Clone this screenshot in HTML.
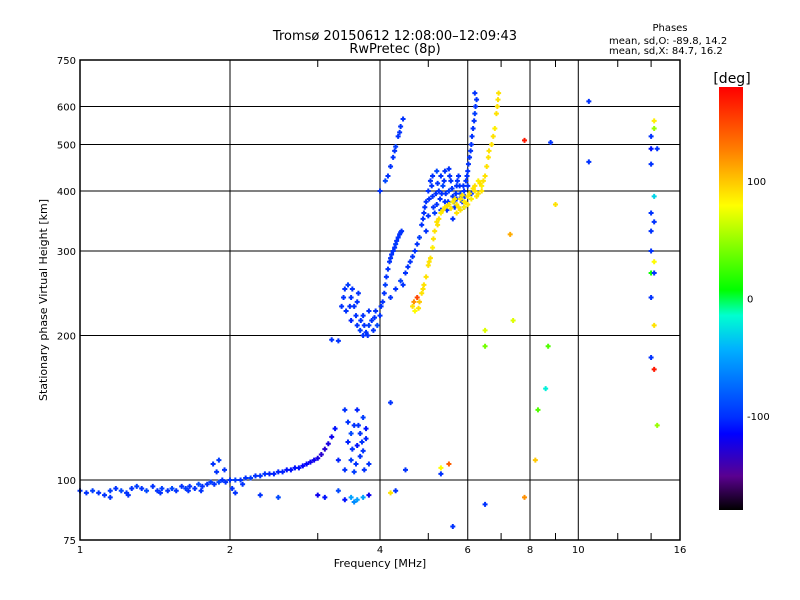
<!DOCTYPE html>
<html><head><meta charset="utf-8"><style>
body{margin:0;background:#fff;}
svg{display:block;font-family:"DejaVu Sans","Liberation Sans",sans-serif;}
</style></head><body>
<svg id="c" width="800" height="600" viewBox="0 0 800 600">
<text x="395" y="40" text-anchor="middle" font-size="13">Tromsø 20150612 12:08:00–12:09:43</text>
<text x="395" y="53" text-anchor="middle" font-size="13">RwPretec (8p)</text>
<text x="670" y="31" text-anchor="middle" font-size="10">Phases</text>
<text x="609" y="44" font-size="10">mean, sd,O: -89.8, 14.2</text>
<text x="609" y="54" font-size="10">mean, sd,X:  84.7, 16.2</text>
<g id="grid"></g>
<g id="marks"></g>
<rect x="80" y="60" width="600" height="480" fill="none" stroke="#000" stroke-width="1.5"/>
<g id="ticks"></g>
<text x="380" y="567" text-anchor="middle" font-size="11">Frequency [MHz]</text>
<text transform="translate(47,300) rotate(-90)" text-anchor="middle" font-size="11">Stationary phase Virtual Height [km]</text>
<defs><linearGradient id="cb" x1="0" y1="1" x2="0" y2="0">
<stop offset="0" stop-color="#000"/><stop offset="0.08" stop-color="#5a0090"/><stop offset="0.18" stop-color="#0000ff"/><stop offset="0.22" stop-color="#0030ff"/><stop offset="0.38" stop-color="#00b0ff"/><stop offset="0.46" stop-color="#00ffd0"/><stop offset="0.52" stop-color="#00ff00"/><stop offset="0.72" stop-color="#ffff00"/><stop offset="0.85" stop-color="#ff8000"/><stop offset="1" stop-color="#ff0000"/></linearGradient></defs>
<rect x="719" y="87" width="24" height="423" fill="url(#cb)"/>
<text x="732" y="83" text-anchor="middle" font-size="14">[deg]</text>
<g id="cbt"></g>
</svg>
<script>
const xTicks=[1,2,4,6,8,10,16];
const xMinor=[3,5,7,9,12,14];
const yTicks=[75,100,200,300,400,500,600,750];
const cbTicks=[100,0,-100];
// [freq MHz, height km, phase deg]
const eTrace=[[1,95,-100],[1.03,94,-100],[1.06,95,-95],[1.09,94,-100],[1.12,93,-100],[1.15,95,-95],[1.18,96,-100],[1.21,95,-90],[1.24,94,-100],[1.27,96,-100],[1.3,97,-95],[1.33,96,-100],[1.36,95,-90],[1.4,97,-100],[1.43,95,-100],[1.46,96,-95],[1.5,95,-100],[1.53,96,-90],[1.56,95,-100],[1.6,97,-100],[1.63,96,-95],[1.66,97,-100],[1.7,96,-100],[1.73,98,-90],[1.76,97,-100],[1.8,98,-100],[1.83,99,-95],[1.86,98,-100],[1.9,99,-90],[1.93,100,-100],[1.96,99,-100],[2.0,100,-100],[2.05,100,-95],[2.1,100,-100],[2.15,101,-100],[2.2,101,-95],[2.25,102,-100],[2.3,102,-100],[2.35,103,-100],[2.4,103,-105],[2.45,103,-105],[2.5,104,-105],[2.55,104,-105],[2.6,105,-110],[2.65,105,-110],[2.7,106,-110],[2.75,106,-110],[2.8,107,-115],[2.85,108,-115],[2.9,109,-120],[2.95,110,-120],[3.0,111,-125],[3.05,113,-130],[3.1,116,-130],[3.15,119,-125],[3.2,123,-120],[3.25,128,-110],[1.85,108,-100],[1.9,110,-95],[1.95,105,-100],[2.05,94,-100],[2.3,93,-100],[2.5,92,-90],[1.15,92,-100],[1.25,93,-100],[1.45,94,-100],[1.65,95,-100],[1.75,95,-100],[1.88,104,-100],[2.02,96,-100],[2.12,98,-100]];
const eScatter=[[3.4,140,-100],[3.45,120,-105],[3.5,110,-95],[3.55,130,-100],[3.6,118,-110],[3.65,112,-100],[3.7,135,-95],[3.75,122,-105],[3.8,108,-100],[3.5,125,-90],[3.6,140,-105],[3.7,115,-100],[3.4,105,-100],[3.55,104,-95],[3.75,128,-110],[3.3,110,-105],[3.65,125,-100],[3.5,92,-50],[3.6,91,-50],[3.7,92,-50],[3.55,90,-60],[3.4,91,-110],[3.1,92,-110],[3.0,93,-120],[3.8,93,-120],[3.3,95,-90],[3.45,132,-100],[3.58,108,-100],[3.68,120,-100],[3.72,105,-100],[3.52,116,-100],[3.62,130,-100]];
const fO=[[3.2,196,-100],[3.3,195,-100],[3.35,230,-100],[3.4,250,-100],[3.45,255,-95],[3.5,240,-100],[3.42,225,-100],[3.5,215,-105],[3.55,230,-100],[3.6,210,-100],[3.65,205,-95],[3.7,200,-100],[3.75,203,-100],[3.8,210,-95],[3.85,215,-100],[3.6,235,-100],[3.7,220,-100],[3.8,225,-100],[3.9,218,-100],[3.95,210,-90],[4.0,220,-100],[4.05,235,-100],[4.1,255,-95],[4.15,275,-100],[4.2,290,-100],[4.25,300,-100],[4.3,310,-95],[4.35,320,-100],[4.4,328,-100],[4.0,400,-100],[4.1,420,-90],[4.2,450,-100],[4.25,470,-100],[4.3,495,-95],[4.35,520,-100],[4.4,545,-100],[4.45,565,-100],[4.2,240,-100],[4.3,250,-100],[4.4,260,-95],[4.5,270,-100],[4.6,285,-100],[4.7,300,-100],[4.8,320,-95],[4.85,340,-100],[4.9,360,-100],[4.95,380,-100],[5.0,400,-100],[5.05,420,-100],[5.1,390,-100],[5.15,360,-95],[5.2,375,-100],[5.25,400,-100],[5.3,430,-100],[5.35,410,-90],[5.4,380,-100],[5.45,365,-100],[5.5,400,-95],[5.55,420,-100],[5.6,390,-100],[5.65,370,-100],[5.7,410,-100],[5.75,430,-100],[5.8,395,-95],[5.85,380,-100],[5.9,400,-100],[5.95,420,-100],[6.0,440,-100],[6.05,470,-100],[6.1,500,-100],[6.15,540,-100],[6.2,580,-95],[6.25,620,-100],[5.0,355,-100],[5.1,430,-100],[5.2,440,-90],[5.3,365,-100],[5.5,445,-100],[5.6,350,-100],[5.7,385,-100],[5.9,370,-100],[6.1,395,-100],[6.0,410,-100],[4.95,330,-100],[5.4,440,-100]];
const fO2=[[3.38,240,-100],[3.48,230,-100],[3.52,250,-100],[3.58,220,-100],[3.62,245,-100],[3.66,215,-100],[3.72,210,-100],[3.78,200,-100],[3.88,205,-100],[3.92,225,-100],[4.02,230,-100],[4.08,245,-100],[4.12,265,-100],[4.18,285,-100],[4.22,295,-100],[4.28,305,-100],[4.32,315,-100],[4.38,325,-100],[4.42,330,-100],[4.15,430,-100],[4.28,485,-100],[4.38,530,-100],[4.45,255,-100],[4.55,278,-100],[4.65,292,-100],[4.75,310,-100],[4.88,350,-100],[4.92,370,-100],[5.02,385,-100],[5.08,410,-100],[5.12,370,-100],[5.18,395,-100],[5.22,415,-100],[5.28,385,-100],[5.32,395,-100],[5.38,420,-100],[5.42,395,-100],[5.48,380,-100],[5.52,430,-100],[5.58,405,-100],[5.62,380,-100],[5.68,395,-100],[5.72,420,-100],[5.78,410,-100],[5.82,388,-100],[5.88,410,-100],[5.92,390,-100],[5.98,430,-100],[6.02,455,-100],[6.08,485,-100],[6.12,520,-100],[6.18,560,-100],[6.22,600,-100],[6.2,640,-100]];
const fX=[[4.65,230,90],[4.7,225,80],[4.75,240,150],[4.8,235,100],[4.85,245,90],[4.9,255,90],[4.95,265,90],[5.0,280,90],[5.05,290,90],[5.1,305,85],[5.15,330,90],[5.2,345,90],[5.25,350,90],[5.3,360,85],[5.4,370,90],[5.5,375,90],[5.6,380,85],[5.7,375,90],[5.8,385,90],[5.9,380,85],[6.0,390,90],[6.1,385,85],[6.2,400,90],[6.3,395,90],[6.4,410,85],[6.5,430,90],[6.55,450,90],[6.6,470,90],[6.7,500,90],[6.8,540,85],[6.85,580,90],[6.9,620,90],[5.7,360,90],[5.8,365,90],[5.9,370,85],[6.0,375,90],[6.2,410,90],[6.3,420,85],[6.4,400,90],[4.68,235,120],[4.78,228,90],[4.88,250,90],[5.02,285,90],[5.12,318,90],[5.22,340,90],[5.35,365,90],[5.45,372,90],[5.55,368,90],[5.65,385,90],[5.75,370,90],[5.85,392,90],[5.95,378,90],[6.05,395,90],[6.15,405,90],[6.25,390,90],[6.35,415,90],[6.45,420,90],[6.62,485,90],[6.75,520,90],[6.88,600,90],[6.92,640,90]];
const sparse=[[14.2,560,85],[14.2,540,50],[14.0,520,-100],[14.0,490,-110],[14.4,490,-100],[14.0,455,-100],[14.2,390,-30],[14.0,360,-100],[14.2,345,-100],[14.0,330,-100],[14.0,300,-100],[14.2,285,80],[14.0,270,10],[14.2,270,-100],[14.0,240,-100],[14.2,210,90],[14.0,180,-100],[14.2,170,170],[14.4,130,50],[10.5,615,-100],[10.5,460,-100],[8.8,505,-100],[7.8,510,170],[9.0,375,90],[7.3,325,110],[7.4,215,70],[6.5,205,70],[8.7,190,30],[6.5,190,40],[8.6,155,-20],[8.3,140,30],[8.2,110,100],[7.8,92,120],[5.3,106,80],[5.3,103,-100],[5.5,108,140],[4.5,105,-100],[4.3,95,-100],[5.6,80,-100],[6.5,89,-100],[4.2,94,90],[4.2,145,-100]];
const x=f=>80+150*Math.log2(f);
const y=h=>540-480*Math.log10(h/75);
function col(p){const t=Math.max(0,Math.min(1,(p+180)/360));const st=[[0,0,0,0],[.08,90,0,144],[.18,0,0,255],[.22,0,48,255],[.38,0,176,255],[.46,0,255,208],[.52,0,255,0],[.72,255,255,0],[.85,255,128,0],[1,255,0,0]];for(let i=1;i<st.length;i++){if(t<=st[i][0]){const a=st[i-1],b=st[i],k=(t-a[0])/(b[0]-a[0]);return`rgb(${[1,2,3].map(j=>Math.round(a[j]+(b[j]-a[j])*k)).join(',')})`;}}return'red';}
const NS='http://www.w3.org/2000/svg';
function el(t,a,p){const e=document.createElementNS(NS,t);for(const k in a)e.setAttribute(k,a[k]);p.appendChild(e);return e;}
const g=document.getElementById('grid'),tk=document.getElementById('ticks'),m=document.getElementById('marks'),cbt=document.getElementById('cbt');
xTicks.forEach(f=>{const l=el('line',{x1:x(f),x2:x(f),y1:60,y2:540,stroke:'#000','stroke-width':1},g);
const t=el('text',{x:x(f),y:553,'text-anchor':'middle','font-size':10},tk);t.textContent=f;});
xMinor.forEach(f=>{[[60,67],[533,540]].forEach(([a,b])=>{const l=el('line',{x1:x(f),x2:x(f),y1:a,y2:b,stroke:'#000'},tk);});});
yTicks.forEach(h=>{const l=el('line',{x1:80,x2:680,y1:y(h),y2:y(h),stroke:'#000','stroke-width':1},g);
const t=el('text',{x:76,y:y(h)+4,'text-anchor':'end','font-size':10},tk);t.textContent=h;});
cbTicks.forEach(p=>{const yy=87+423*(180-p)/360;const t=el('text',{x:747,y:yy+4,'font-size':10},cbt);t.textContent=p;});
[eTrace,eScatter,fO,fO2,fX,sparse].forEach(s=>s.forEach(([f,h,p])=>{const px=x(f),py=y(h),c=col(p);
const a=el('path',{d:`M${px-2.5},${py}h5M${px},${py-2.5}v5`,stroke:c,'stroke-width':2,fill:'none'},m);
}));
</script>
</body></html>
